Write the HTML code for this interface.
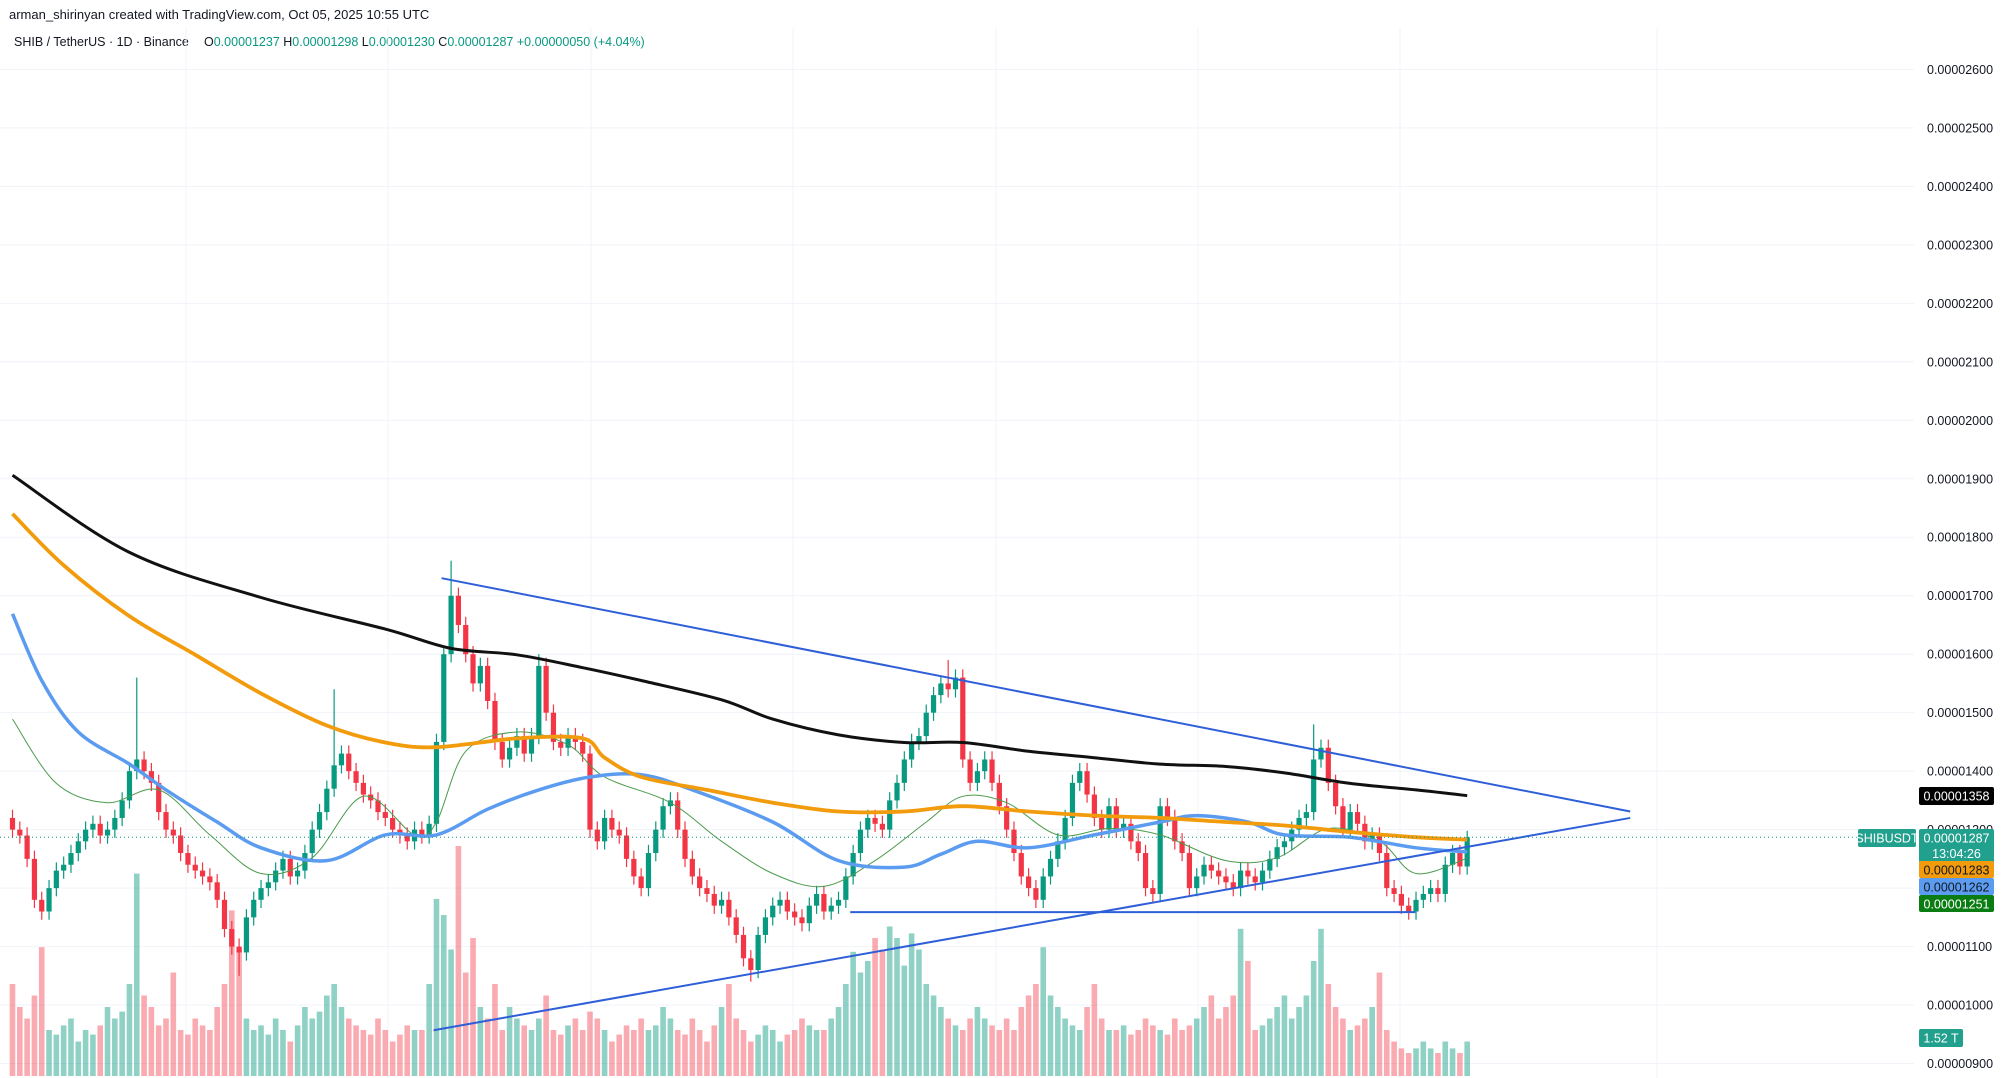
<!DOCTYPE html>
<html><head><meta charset="utf-8"><style>
html,body{margin:0;padding:0;background:#fff;}
body{width:2014px;height:1078px;overflow:hidden;font-family:"Liberation Sans",sans-serif;}
svg{display:block}
</style></head><body>
<svg id="chart" width="2014" height="1078" xmlns="http://www.w3.org/2000/svg">
<text x="9" y="19" font-size="13" fill="#131722">arman_shirinyan created with TradingView.com, Oct 05, 2025 10:55 UTC</text>
<g font-size="12.5">
<text x="14" y="46" fill="#131722">SHIB / TetherUS · 1D · Binance</text>
<text x="204" y="46" fill="#131722">O<tspan fill="#089981">0.00001237</tspan>  H<tspan fill="#089981">0.00001298</tspan>  L<tspan fill="#089981">0.00001230</tspan>  C<tspan fill="#089981">0.00001287</tspan>  <tspan fill="#089981">+0.00000050 (+4.04%)</tspan></text>
</g>
<g id="grid"></g><g id="vol"></g><g id="candles"></g><g id="mas"></g><g id="lines"></g><g id="axis"></g>
</svg>
<script>
const closes=[1300,1290,1250,1180,1160,
1200,1230,1240,1260,1280,1300,1310,1290,1300,1320,1350,1400,1420,
1400,1380,1330,1300,1290,1260,1240,1230,1220,1210,
1180,1130,1100,1090,
1150,1180,1200,1210,1230,1250,1220,1230,1260,1300,1330,1370,1410,
1430,1400,1380,1360,1350,1330,1320,1300,1290,1280,1300,
1290,1310,1450,1600,1700,
1650,1600,1550,1580,1520,1450,1420,1440,1460,1430,
1460,1580,1500,1450,1440,1460,1450,1430,
1300,1280,1320,1300,1290,1250,1220,1200,
1260,1300,1340,1350,1300,
1250,1220,1200,1190,1170,1180,1150,1120,1080,1060,
1120,1150,1170,1180,1160,1150,1140,1170,1190,1160,1170,
1180,1220,1260,1300,1320,1310,1300,1350,
1380,1420,1450,1460,1500,1530,1550,1540,1560,1420,
1380,1400,1420,1380,1340,1300,1260,
1220,1200,1180,1220,1250,1280,1320,
1380,1400,1360,1320,1300,1340,1300,1310,
1280,1260,1200,1190,1340,1320,1280,1260,
1200,1220,1240,1230,1220,1210,1200,1230,1220,1210,1230,1250,
1270,1280,1300,1320,1330,1420,1440,1380,
1340,1300,1330,1310,1280,1290,1260,1200,
1190,1170,1160,1180,1190,1200,1190,1240,1260,1237,1287];
const firstOpen=1320;
const spikeIdx=[17,31,44,60,72,128,178,199,101];
const spikeHigh=[1560,1050,1540,1760,1600,1590,1480,1298,1040];
const volumes=[40,30,25,35,56,20,18,22,25,15,
20,18,22,30,25,28,40,88,35,30,
22,25,45,20,18,25,22,20,30,40,
72,55,25,20,22,18,25,20,15,22,
30,25,28,35,40,30,25,22,20,18,
25,20,15,18,22,20,20,40,77,70,
55,100,45,60,30,25,40,20,30,25,
22,20,25,35,20,18,22,25,20,28,
25,20,15,18,22,20,25,20,22,30,
25,20,18,25,20,15,22,30,40,25,
20,15,18,22,20,15,18,20,25,22,
20,20,25,30,40,54,45,50,60,55,
65,60,48,62,55,40,35,30,25,22,
20,25,30,25,22,20,25,20,30,35,
40,56,35,30,25,22,20,30,40,25,
20,20,22,18,20,25,22,20,18,25,
20,22,25,30,35,25,30,35,64,50,
20,22,25,30,35,25,30,35,50,64,
40,30,25,20,22,25,30,45,20,15,
12,10,12,15,12,10,15,12,10,15];
const blackIdx=[0,16,34,51,60,69,78,86,97,104,113,122,130,139,148,157,166,174,183,192,199];
const blackVal=[1906,1774,1697,1643,1610,1599,1577,1555,1522,1489,1462,1449,1449,1434,1423,1412,1408,1397,1379,1368,1358];
const orangeIdx=[0,7,16,25,34,43,51,58,69,78,81,86,95,104,113,122,130,139,148,157,166,174,183,192,199];
const orangeVal=[1840,1752,1665,1599,1533,1478,1449,1441,1456,1456,1423,1390,1368,1346,1331,1331,1340,1331,1324,1320,1313,1307,1296,1287,1283];
const blueIdx=[0,4,9,16,21,28,34,43,51,58,65,72,79,86,93,104,113,122,127,132,139,148,157,162,169,174,183,192,199];
const blueVal=[1669,1555,1467,1412,1368,1313,1269,1247,1291,1291,1335,1368,1390,1394,1368,1313,1247,1236,1258,1280,1269,1291,1313,1324,1313,1291,1287,1269,1262];
const greenIdx=[0,6,13,20,27,34,41,48,55,58,62,69,76,81,90,97,104,111,118,125,130,136,143,150,157,166,173,180,187,192,199];
const greenVal=[1489,1379,1346,1368,1291,1225,1252,1357,1291,1313,1434,1467,1445,1390,1346,1280,1225,1203,1247,1313,1357,1346,1291,1302,1291,1247,1252,1302,1280,1225,1251];
const trendStart=[[58.7,1730],[57.6,957],[114.6,1159]];
const trendEnd=[[221.3,1331],[221.3,1320],[191.9,1159]];
const priceTicks=[2600,2500,2400,2300,2200,2100,2000,1900,1800,1700,1600,1500,1400,1300,1200,1100,1000,900];

const NS="http://www.w3.org/2000/svg";
const X=i=>12.5+i*7.31;
const Y=p=>69.4+(2600-p)*0.5848;
const VY=v=>1076-v*2.3;
function mk(parent,tag,attrs){const e=document.createElementNS(NS,tag);for(const k in attrs)e.setAttribute(k,attrs[k]);document.getElementById(parent).appendChild(e);return e;}

[186,388,591,793,996,1198,1400,1657].forEach(x=>{const l=mk('grid','line',{x1:x,y1:28,x2:x,y2:1078,stroke:'#f0f3fa','stroke-width':1});

});
priceTicks.forEach(p=>{const l=mk('grid','line',{x1:0,y1:Y(p),x2:1914,y2:Y(p),stroke:'#f0f3fa','stroke-width':1});


const t=mk('axis','text',{x:1927,y:Y(p)+4.5,'font-size':12.5,fill:'#131722'});t.textContent='0.0000'+String(p).padStart(4,'0');

});

let prev=firstOpen;
closes.forEach((c,i)=>{
 const o=prev;prev=c;
 const up=c>=o;
 const vv=volumes[i]||0;
 const v=mk('vol','rect',{x:X(i)-2.8,y:VY(vv),width:5.6,height:vv*2.3,fill:up?'rgba(8,153,129,0.45)':'rgba(242,54,69,0.42)'});
 
 
 let hi=Math.max(o,c)+14,lo=Math.min(o,c)-14;
 const si=spikeIdx.indexOf(i);
 if(si>=0){if(spikeHigh[si]>Math.max(o,c))hi=spikeHigh[si];else lo=spikeHigh[si];}
 const col=up?'#089981':'#f23645';
 const w=mk('candles','line',{x1:X(i),x2:X(i),y1:Y(hi),y2:Y(lo),stroke:col,'stroke-width':1.2});
 
 
 const b=mk('candles','rect',{x:X(i)-2.6,y:Y(Math.max(o,c)),width:5.2,height:Math.max(1,Math.abs(Y(o)-Y(c))),fill:col});
 
 
});

function ma(idx,val,color,w,name){
 const pts=idx.map((i,k)=>[X(i),Y(val[k])]);
 let d='M'+pts[0][0].toFixed(1)+' '+pts[0][1].toFixed(1);
 for(let k=0;k<pts.length-1;k++){
  const p0=pts[Math.max(0,k-1)],p1=pts[k],p2=pts[k+1],p3=pts[Math.min(pts.length-1,k+2)];
  const c1=[p1[0]+(p2[0]-p0[0])/6,p1[1]+(p2[1]-p0[1])/6];
  const c2=[p2[0]-(p3[0]-p1[0])/6,p2[1]-(p3[1]-p1[1])/6];
  d+=' C'+c1.map(v=>v.toFixed(1)).join(' ')+' '+c2.map(v=>v.toFixed(1)).join(' ')+' '+p2[0].toFixed(1)+' '+p2[1].toFixed(1);
 }
 const p=mk('mas','path',{d:d,fill:'none',stroke:color,'stroke-width':w,'stroke-linejoin':'round'});
 
 
}
ma(greenIdx,greenVal,'#4c9a4c',1,'ma-20-line');
ma(blueIdx,blueVal,'#5b9cf0',3.5,'ma-50-line');
ma(orangeIdx,orangeVal,'#f29b0c',3.8,'ma-100-line');
ma(blackIdx,blackVal,'#111111',3,'ma-200-line');

trendStart.forEach((s,k)=>{const e=trendEnd[k];
 const l=mk('lines','line',{x1:X(s[0]),y1:Y(s[1]),x2:X(e[0]),y2:Y(e[1]),stroke:'#2f5fd8','stroke-width':2});
 
 });

const cl=mk('lines','line',{x1:0,y1:Y(1287),x2:1858,y2:Y(1287),stroke:'#089981','stroke-width':1,'stroke-dasharray':'1 3'});



function tag(x,y,w,h,bg,fg,txt,name,txt2){
 const r=mk('axis','rect',{x:x,y:y,width:w,height:h,fill:bg,rx:2});
 
 
 const t=mk('axis','text',{x:x+w/2,y:y+13.5,'font-size':12.5,fill:fg,'text-anchor':'middle'});t.textContent=txt;
 
 
 if(txt2){const t2=mk('axis','text',{x:x+w/2,y:y+29,'font-size':12.5,fill:fg,'text-anchor':'middle'});t2.textContent=txt2;
 
 }
}
tag(1919,787,75,18,'#000000','#fff','0.00001358','ma-200-value-tag');
tag(1919,829,75,34,'#22a08e','#fff','0.00001287','last-price-tag','13:04:26');
tag(1858,829,58,18,'#22a08e','#fff','SHIBUSDT','symbol-tag');
tag(1919,861,75,17,'#f29b0c','#131722','0.00001283','ma-100-value-tag');
tag(1919,878,75,17,'#5b9cf0','#131722','0.00001262','ma-50-value-tag');
tag(1919,895,75,17,'#0a7d12','#fff','0.00001251','ma-20-value-tag');
tag(1919,1029,44,18,'#22a08e','#fff','1.52 T','volume-tag');
</script>
</body></html>
